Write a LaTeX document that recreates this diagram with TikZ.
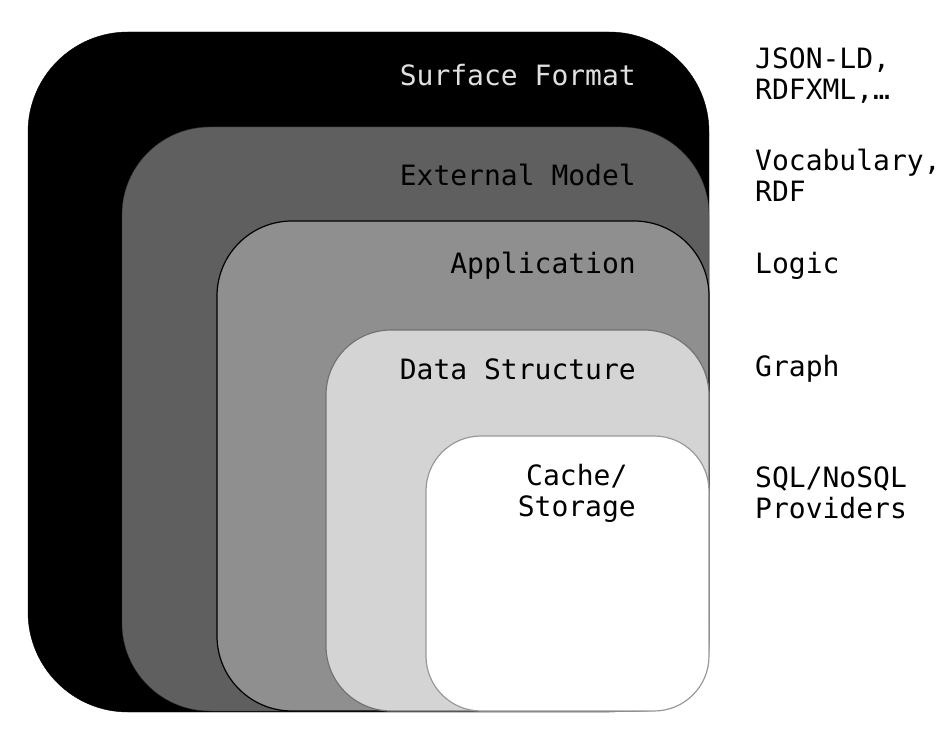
\documentclass[tikz,border=0pt]{standalone}
\usepackage{fontspec}
\newfontfamily\monofnt{DejaVu Sans Mono}
\definecolor{darklayer}{HTML}{5F5F5F}
\definecolor{midlayer}{HTML}{8F8F8F}
\definecolor{lightlayer}{HTML}{D4D4D4}

\begin{document}
\begin{tikzpicture}[x=1pt, y=-1pt, every node/.style={font=\monofnt\fontsize{28}{31}\selectfont},
	layer/.style={draw, anchor=north west, inner sep=0pt, outer sep=0pt},
	lbl/.style={anchor=east, align=center, inner sep=0pt},
	side/.style={anchor=west, align=left, inner sep=0pt}]
	\useasboundingbox (0,0) rectangle (944,738);
	% nested layers
	\node[layer, fill=black, rounded corners=100pt, minimum width=681pt, minimum height=680pt] (surface) at (28,32) {};
	\node[layer, draw=black!80, fill=darklayer, rounded corners=88pt, minimum width=587pt, minimum height=584pt] (external) at (122,127) {};
	\node[layer, line width=1.2pt, fill=midlayer, rounded corners=75pt, minimum width=492pt, minimum height=490pt] (app) at (217,221) {};
	\node[layer, draw=black!55, line width=1.2pt, fill=lightlayer, rounded corners=65pt, minimum width=383pt, minimum height=381pt] (data) at (326,330) {};
	\node[layer, draw=black!40, line width=1.2pt, fill=white, rounded corners=55pt, minimum width=283pt, minimum height=275pt] (cache) at (426,436) {};
	% layer names
	\node[lbl, text=black!12] (surfacetxt) at (636,75) {Surface Format};
	\node[lbl] (externaltxt) at (636,175) {External Model};
	\node[lbl] (apptxt) at (636,266) {Application};
	\node[lbl] (datatxt) at (636,369) {Data Structure};
	\node[lbl] (cachetxt) at (636,493) {Cache/\\Storage};
	% examples on the right
	\node[side] (formats) at (755,76) {JSON-LD,\\RDFXML,…};
	\node[side] (vocab) at (755,175) {Vocabulary,\\RDF};
	\node[side] (logic) at (755,266) {Logic};
	\node[side] (graph) at (755,369) {Graph};
	\node[side] (providers) at (755,493) {SQL/NoSQL\\Providers};
\end{tikzpicture}
\end{document}
